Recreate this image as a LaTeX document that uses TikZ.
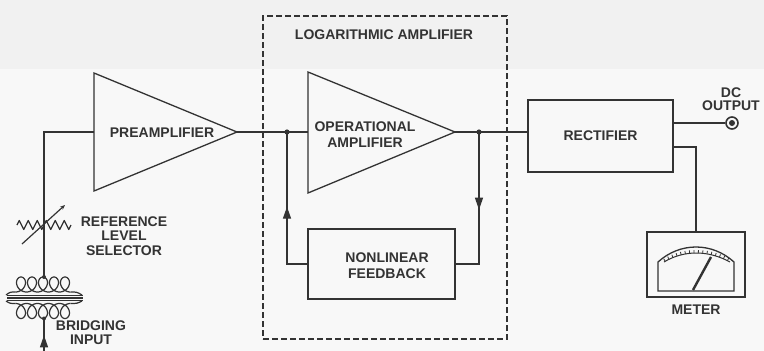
\documentclass[tikz,border=0pt]{standalone}
\usepackage{fontspec}
\setmainfont{Liberation Sans}
\usetikzlibrary{arrows.meta,decorations.pathmorphing,decorations.markings}
\definecolor{ink}{HTML}{333333}
\definecolor{paper}{HTML}{F8F8F8}
\definecolor{papertop}{HTML}{F1F1F1}

\begin{document}
\begin{tikzpicture}[x=1pt,y=-1pt,
  wire/.style={draw=ink,line width=1.3pt,line join=miter},
  thinwire/.style={draw=ink,line width=1.2pt},
  lbl/.style={text=ink,font=\bfseries\fontsize{14}{16}\selectfont,align=center,inner sep=0pt},
  blockbox/.style={draw=ink,line width=1.3pt,rectangle,inner sep=0pt},
  arrowat/.style={postaction={decorate},decoration={markings,
      mark=at position #1 with {\arrow[ink]{Triangle[length=12pt,width=8pt]}}}},
]
\useasboundingbox (0,0) rectangle (764,351);
\fill[paper] (0,0) rectangle (764,351);
\fill[papertop] (0,0) rectangle (764,69);

% ---------- logarithmic amplifier enclosure ----------
\node[draw=ink,line width=1.2pt,dash pattern=on 6pt off 3pt,
      minimum width=244pt,minimum height=323pt,inner sep=0pt] (logbox) at (385,177.5) {};
\node[lbl] (logtitle) at (384,35) {LOGARITHMIC AMPLIFIER};

% ---------- preamplifier ----------
\coordinate (pa-top) at (94,73);
\coordinate (pa-bot) at (94,191);
\coordinate (pa-tip) at (237,132);
\coordinate (pa-in) at (94,132);
\draw[wire] (pa-top) -- (pa-tip) -- (pa-bot) -- cycle;
\node[lbl] (pa-label) at (162,133) {PREAMPLIFIER};

% ---------- operational amplifier ----------
\coordinate (oa-top) at (308,72);
\coordinate (oa-bot) at (308,193);
\coordinate (oa-tip) at (455,132);
\coordinate (oa-in) at (308,132);
\draw[wire] (oa-top) -- (oa-tip) -- (oa-bot) -- cycle;
\node[lbl] (oa-label) at (365,135) {OPERATIONAL\\AMPLIFIER};

% junctions of the feedback loop
\coordinate (jl) at (287,132);
\coordinate (jr) at (479,132);

% ---------- nonlinear feedback ----------
\node[blockbox,minimum width=147pt,minimum height=70pt] (fb) at (381.5,264) {};
\node[lbl] (fb-label) at (387,266) {NONLINEAR\\FEEDBACK};

% ---------- rectifier ----------
\node[blockbox,minimum width=145pt,minimum height=72pt,lbl] (rect) at (600.5,136) {RECTIFIER};

% ---------- DC output jack ----------
\node[circle,draw=ink,line width=1.6pt,minimum size=12pt,inner sep=0pt] (jack) at (732,123) {};
\fill[ink] (jack.center) circle (3pt);
\node[lbl,font=\bfseries\fontsize{14}{13}\selectfont] (jack-label) at (731,99.5) {DC\\OUTPUT};

% ---------- meter ----------
\node[blockbox,minimum width=98pt,minimum height=65pt] (meter) at (696,264.5) {};
\draw[thinwire,line width=1.3pt] (658,291) -- (658,262) .. controls (680,242) and (712,242) .. (734,262) -- (734,291) -- cycle;
\draw[thinwire,line width=1pt,postaction={decorate},
  decoration={markings,mark=between positions 0.02 and 0.98 step 0.0625 with {\draw[ink,line width=0.8pt] (0pt,0pt) -- (0pt,3pt);}}]
  (664,262) .. controls (684,250) and (708,250) .. (730,262);
\draw[ink,line width=2.4pt] (693,290) -- (711,257);
\node[lbl] (meter-label) at (696,310) {METER};

% ---------- signal path ----------
\coordinate (in-corner) at (44,132);
\coordinate (tx-top) at (44,277);
\coordinate (tx-bot) at (44,318.5);
\coordinate (in-end) at (44,356);
\draw[wire] (tx-top) -- (in-corner) -- (pa-in);
\draw[wire] (pa-tip) -- (oa-in);
\draw[wire] (oa-tip) -- (oa-tip -| rect.west);
\fill[ink] (jl) circle (2.6pt);
\fill[ink] (jr) circle (2.6pt);

% feedback loop
\draw[wire,arrowat=0.5] (jr) |- (fb.east);
\draw[wire,arrowat=0.51] (fb.west) -| (jl);

% rectifier outputs
\draw[wire] ([yshift=13pt]rect.east) -- (jack);
\draw[wire] ([yshift=-11pt]rect.east) -| (meter.north);

% ---------- reference level selector ----------
\coordinate (res-l) at (17,225);
\coordinate (res-r) at (71,225);
\draw[thinwire,line join=round,decorate,decoration={zigzag,segment length=9pt,amplitude=4.5pt}] (res-l) -- (res-r);
\coordinate (sel-a) at (22,244);
\coordinate (sel-b) at (65,205);
\draw[thinwire,-{Stealth[length=5pt,width=4pt]}] (sel-a) -- (sel-b);
\node[lbl,font=\bfseries\fontsize{14}{14.5}\selectfont] (sel-label) at (124,236) {REFERENCE\\LEVEL\\SELECTOR};

% ---------- bridging input transformer ----------
% primary winding (loops on top)
\draw[thinwire] plot[domain=-pi:9*pi,samples=400,variable=\t]
  ({21+1.75*\t-7*sin(\t r)},{284.5-7.5*cos(\t r)});
\draw[thinwire] (15.5,292) .. controls (10,292) .. (6,295);
\draw[thinwire] (70.5,292) .. controls (77,292) .. (82,295);
% laminated core
\draw[ink,line width=1.2pt] (7,295.5) -- (83,295.5);
\draw[ink,line width=1.2pt] (7,298) -- (83,298);
\draw[ink,line width=1.2pt] (7,300.5) -- (83,300.5);
% secondary winding (loops below)
\draw[thinwire] plot[domain=-pi:9*pi,samples=400,variable=\t]
  ({21+1.75*\t-7*sin(\t r)},{311+7.5*cos(\t r)});
\draw[thinwire] (15.5,303.5) .. controls (10,303.5) .. (6,301);
\draw[thinwire] (70.5,303.5) .. controls (77,303.5) .. (82,301);
\fill[ink] (tx-top) circle (2pt);
\fill[ink] (tx-bot) circle (2pt);
\draw[wire,arrowat=0.55] (in-end) -- (tx-bot);
\node[lbl,font=\bfseries\fontsize{14}{14}\selectfont] (in-label) at (91,333) {BRIDGING\\INPUT};
\end{tikzpicture}
\end{document}
